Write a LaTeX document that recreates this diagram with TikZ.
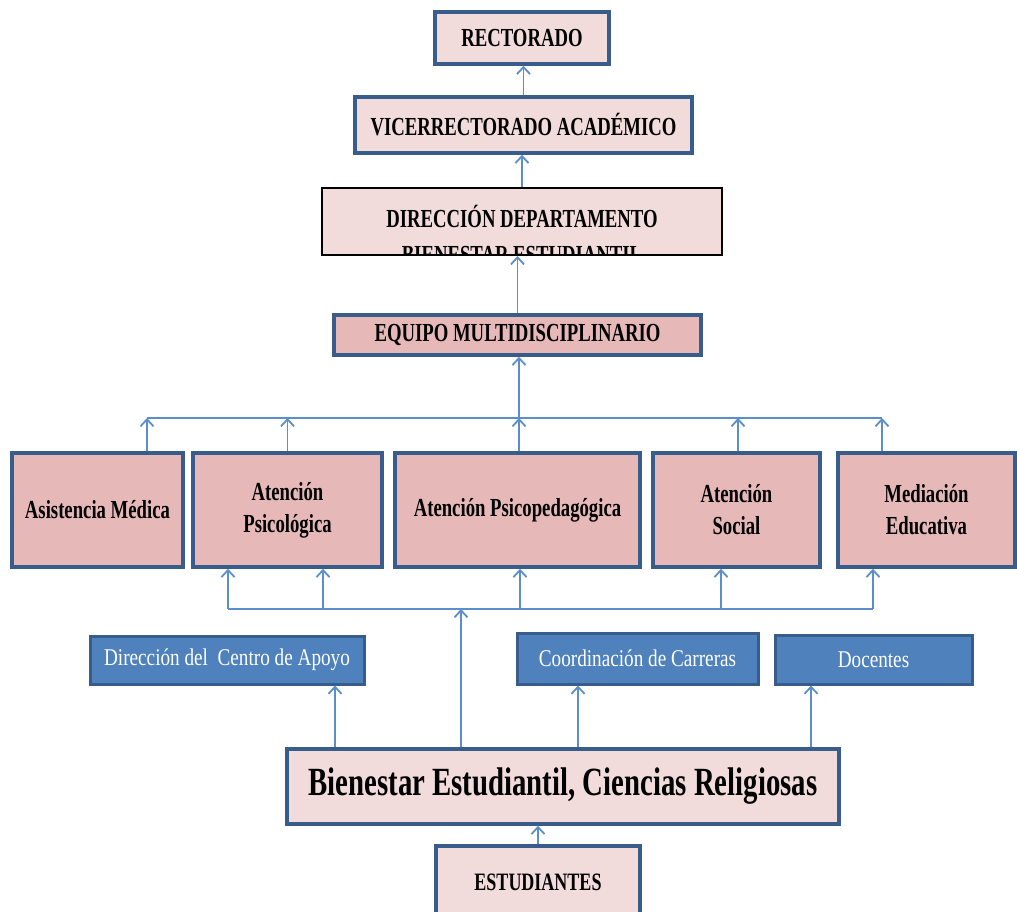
\documentclass[tikz,border=0pt]{standalone}
\usepackage{fontspec}
\setmainfont{Liberation Serif}[FakeStretch=0.72]
\newfontfamily\lightserif{Liberation Serif}[FakeStretch=0.8]
\usetikzlibrary{arrows.meta}
\definecolor{pinkL}{HTML}{F2DCDB}
\definecolor{pinkD}{HTML}{E6B9B8}
\definecolor{boxblue}{HTML}{4F81BD}
\definecolor{edgeblue}{HTML}{385D8A}
\definecolor{linkblue}{HTML}{5B8FCC}

\begin{document}
\begin{tikzpicture}[x=1pt,y=-1pt,
  box/.style={draw=edgeblue, line width=3.5pt, inner sep=0pt, align=center,
    font=\bfseries\fontsize{26}{32}\selectfont},
  lightbox/.style={box, fill=pinkL},
  darkbox/.style={box, fill=pinkD},
  bluebox/.style={draw=edgeblue, line width=3pt, fill=boxblue, text=white,
    inner sep=0pt, font=\lightserif\fontsize{24}{28}\selectfont},
  arr/.style={draw=linkblue, line width=1.8pt,
    -{Straight Barb[length=7pt,width=13pt]}},
  link/.style={draw=linkblue, line width=1.8pt}
]
\useasboundingbox (0,0) rectangle (1017,912);
\clip (0,0) rectangle (1017,912);

% top of the hierarchy
\node[lightbox, minimum width=174pt, minimum height=52pt] (rect) at (522,38) {RECTORADO};
\node[lightbox, minimum width=337pt, minimum height=56pt] (vice) at (523.5,125) {VICERRECTORADO ACADÉMICO};
\node[draw=black, line width=2pt, fill=pinkL, minimum width=400pt, minimum height=67pt] (dir) at (522,221.5) {};
\begin{scope}
  \clip ([yshift=1pt]dir.south west) rectangle (dir.north east);
  \node[anchor=base, font=\bfseries\fontsize{26}{32}\selectfont] (dirA) at (522,227) {DIRECCIÓN DEPARTAMENTO};
  \node[anchor=base, font=\bfseries\fontsize{26}{32}\selectfont] (dirB) at (522,263) {BIENESTAR  ESTUDIANTIL};
\end{scope}
\node[darkbox, minimum width=367pt, minimum height=40pt] (equipo) at (517.5,335) {EQUIPO MULTIDISCIPLINARIO};

% service areas
\node[darkbox, minimum width=171pt, minimum height=114pt] (am) at (97.5,510) {Asistencia Médica};
\node[darkbox, minimum width=189pt, minimum height=114pt] (ap) at (287.5,510) {Atención\\Psicológica};
\node[darkbox, minimum width=245pt, minimum height=114pt] (app) at (517.5,510) {Atención Psicopedagógica};
\node[darkbox, minimum width=167pt, minimum height=114pt] (as) at (736.5,510) {Atención\\Social};
\node[darkbox, minimum width=177pt, minimum height=114pt] (me) at (926.5,510) {Mediación\\Educativa};

% supporting units
\node[bluebox, minimum width=274pt, minimum height=48pt] (dca) at (227,660) {Dirección del\ \ Centro de Apoyo};
\node[bluebox, minimum width=241pt, minimum height=51pt] (cc) at (637.5,658.5) {Coordinación de Carreras};
\node[bluebox, minimum width=197pt, minimum height=49pt] (doc) at (873.5,659.5) {Docentes};

% base
\node[lightbox, minimum width=552pt, minimum height=75pt,
  font=\bfseries\fontsize{40}{44}\selectfont] (bien) at (563,786.5) {Bienestar Estudiantil, Ciencias Religiosas};
\node[lightbox, minimum width=204pt, minimum height=84pt, text height=16pt, text depth=12pt,
  font=\bfseries\fontsize{25}{28}\selectfont] (est) at (538,888) {ESTUDIANTES};

\coordinate (busT) at (0,418);
\coordinate (busB) at (0,609);

% upper chain
\draw[arr] (vice.north) -- (vice.north |- rect.south);
\draw[arr] (dir.north) -- (dir.north |- vice.south);
\draw[arr] (equipo.north) -- (equipo.north |- dir.south);

% upper collector
\draw[link] ([xshift=49.5pt]am.north |- busT) -- ([xshift=-44.5pt]me.north |- busT);
\draw[arr] ([xshift=1.5pt]app.north |- busT) -- ([xshift=1.5pt]app.north |- equipo.south);
\draw[arr] ([xshift=49.5pt]am.north) -- ([xshift=49.5pt]am.north |- busT);
\draw[arr] (ap.north) -- (ap.north |- busT);
\draw[arr] ([xshift=1.5pt]app.north) -- ([xshift=1.5pt]app.north |- busT);
\draw[arr] ([xshift=1.5pt]as.north) -- ([xshift=1.5pt]as.north |- busT);
\draw[arr] ([xshift=-44.5pt]me.north) -- ([xshift=-44.5pt]me.north |- busT);

% lower distributor
\draw[link] ([xshift=-59.5pt]ap.south |- busB) -- ([xshift=-53.5pt]me.south |- busB);
\draw[arr] ([xshift=-102pt]bien.north) -- ([xshift=-102pt]bien.north |- busB);
\draw[arr] ([xshift=-59.5pt]ap.south |- busB) -- ([xshift=-59.5pt]ap.south);
\draw[arr] ([xshift=35.5pt]ap.south |- busB) -- ([xshift=35.5pt]ap.south);
\draw[arr] ([xshift=2.5pt]app.south |- busB) -- ([xshift=2.5pt]app.south);
\draw[arr] ([xshift=-15.5pt]as.south |- busB) -- ([xshift=-15.5pt]as.south);
\draw[arr] ([xshift=-53.5pt]me.south |- busB) -- ([xshift=-53.5pt]me.south);

% base to supporting units
\draw[arr] ([xshift=108pt]dca.south |- bien.north) -- ([xshift=108pt]dca.south);
\draw[arr] ([xshift=-59.5pt]cc.south |- bien.north) -- ([xshift=-59.5pt]cc.south);
\draw[arr] ([xshift=-62.5pt]doc.south |- bien.north) -- ([xshift=-62.5pt]doc.south);
\draw[arr] (est.north) -- (est.north |- bien.south);
\end{tikzpicture}
\end{document}
